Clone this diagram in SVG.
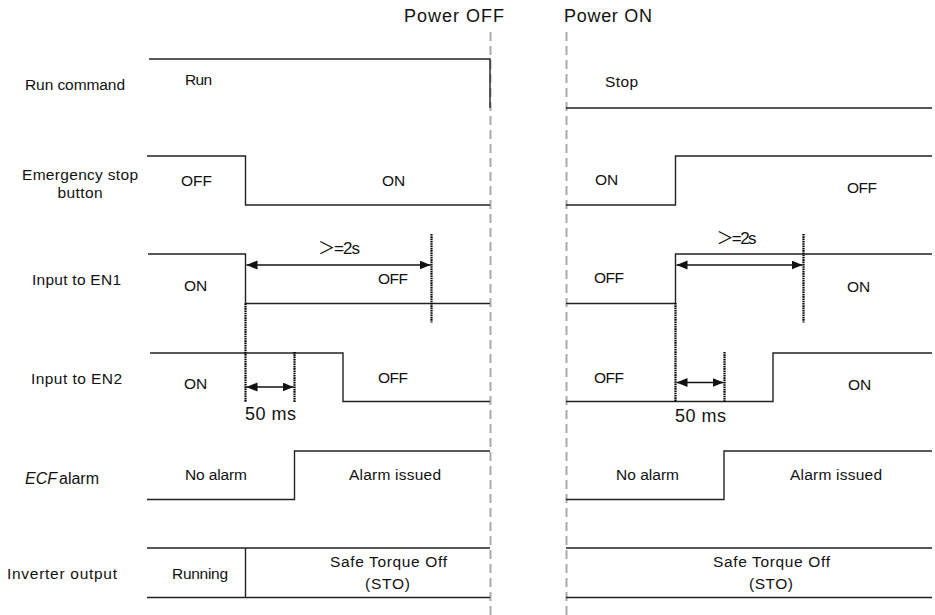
<svg xmlns="http://www.w3.org/2000/svg" width="935" height="615" viewBox="0 0 935 615">
<style>
text{font-family:"Liberation Sans","Noto Sans CJK JP",sans-serif;fill:#111;}
.t{font-size:15.5px;}
.m{font-size:17px;}
.h{font-size:18px;}
.sig{fill:none;stroke:#222;stroke-width:1.4;}
.pw{stroke:#aaa;stroke-width:2;stroke-dasharray:9 5;fill:none;}
.dot{stroke:#000;stroke-width:2.2;stroke-dasharray:1.6 0.7;fill:none;}
.arr{stroke:#111;stroke-width:1.4;fill:none;marker-start:url(#ah);marker-end:url(#ah);}
</style>
<defs>
<marker id="ah" markerUnits="userSpaceOnUse" markerWidth="12" markerHeight="10" refX="11" refY="4.5" orient="auto-start-reverse">
<path d="M0,0 L11,4.5 L0,9 z" fill="#111"/>
</marker>
</defs>
<rect width="935" height="615" fill="#fff"/>

<g id="power-lines">
<line class="pw" x1="490.5" y1="32" x2="490.5" y2="615"/>
<line class="pw" x1="566.5" y1="32" x2="566.5" y2="615"/>
<text class="h" x="404" y="22" textLength="100">Power OFF</text>
<text class="h" x="564" y="22" textLength="88">Power ON</text>
</g>

<g id="run-command">
<text class="t" x="25" y="90" textLength="100">Run command</text>
<path class="sig" d="M149,59 H490 V108"/>
<path class="sig" d="M566,108 H932"/>
<text class="t" x="185" y="85" textLength="27">Run</text>
<text class="t" x="605" y="87" textLength="33">Stop</text>
</g>

<g id="emergency-stop">
<text class="t" x="80" y="180" text-anchor="middle" textLength="116">Emergency stop</text>
<text class="t" x="80" y="198" text-anchor="middle" textLength="45">button</text>
<path class="sig" d="M147,156 H245.5 V205 H490"/>
<path class="sig" d="M566,205 H675.5 V156 H932"/>
<text class="t" x="181" y="186" textLength="31">OFF</text>
<text class="t" x="382" y="186">ON</text>
<text class="t" x="595" y="185">ON</text>
<text class="t" x="847" y="193" textLength="30">OFF</text>
</g>

<g id="input-en1">
<text class="t" x="32" y="285" textLength="89">Input to EN1</text>
<path class="sig" d="M148,254 H245.5 V303.5 H490"/>
<path class="sig" d="M566,303.5 H675.5 V254 H932"/>
<text class="t" x="184" y="291">ON</text>
<text class="t" x="378" y="284" textLength="30">OFF</text>
<text class="t" x="594" y="283" textLength="30">OFF</text>
<text class="t" x="847" y="291.5">ON</text>
<text class="m" x="318" y="253.5" textLength="42">＞=2s</text>
<text class="m" x="716.5" y="244" textLength="40">＞=2s</text>
</g>

<g id="input-en2">
<text class="t" x="31" y="383.5" textLength="91">Input to EN2</text>
<path class="sig" d="M150,353 H343 V401.5 H490"/>
<path class="sig" d="M566,401.5 H773 V353 H932"/>
<text class="t" x="184" y="388.5">ON</text>
<text class="t" x="378" y="383" textLength="30">OFF</text>
<text class="t" x="594" y="383" textLength="30">OFF</text>
<text class="t" x="848" y="389.5">ON</text>
<text class="h" x="245" y="419.5" textLength="51">50 ms</text>
<text class="h" x="675" y="421.5" textLength="51">50 ms</text>
</g>

<g id="ecf-alarm">
<text x="25" y="483.5" font-size="16"><tspan font-style="italic">ECF</tspan><tspan x="59">alarm</tspan></text>
<path class="sig" d="M147,499.5 H294.5 V451 H490"/>
<path class="sig" d="M566,499.5 H724 V451 H932"/>
<text class="t" x="185" y="480" textLength="62">No alarm</text>
<text class="t" x="349" y="480" textLength="92">Alarm issued</text>
<text class="t" x="616" y="480" textLength="63">No alarm</text>
<text class="t" x="790" y="480" textLength="92">Alarm issued</text>
</g>

<g id="inverter-output">
<text class="t" x="7" y="578.5" textLength="110">Inverter output</text>
<path class="sig" d="M147,548 H490 M147,597.5 H490 M245.5,548 V597.5"/>
<path class="sig" d="M566,548 H932 M566,597.5 H932"/>
<text class="t" x="172" y="578.5" textLength="56">Running</text>
<text class="t" x="330" y="566.5" textLength="117">Safe Torque Off</text>
<text class="t" x="365" y="588.5" textLength="45">(STO)</text>
<text class="t" x="713" y="566.5" textLength="117">Safe Torque Off</text>
<text class="t" x="749" y="588.5" textLength="44">(STO)</text>
</g>

<g id="connectors">
<line class="dot" x1="245.5" y1="303.5" x2="245.5" y2="402.5"/>
<line class="dot" x1="294.5" y1="352" x2="294.5" y2="402.5"/>
<line class="dot" x1="431.5" y1="234" x2="431.5" y2="322.5"/>
<line class="dot" x1="675.5" y1="303" x2="675.5" y2="402"/>
<line class="dot" x1="724.5" y1="352" x2="724.5" y2="402"/>
<line class="dot" x1="803.5" y1="234" x2="803.5" y2="322.5"/>
<line class="arr" x1="246.5" y1="265" x2="430.5" y2="265"/>
<line class="arr" x1="246.5" y1="387" x2="293.5" y2="387"/>
<line class="arr" x1="676.5" y1="265" x2="802.5" y2="265"/>
<line class="arr" x1="676.5" y1="382.5" x2="723.5" y2="382.5"/>
</g>
</svg>
